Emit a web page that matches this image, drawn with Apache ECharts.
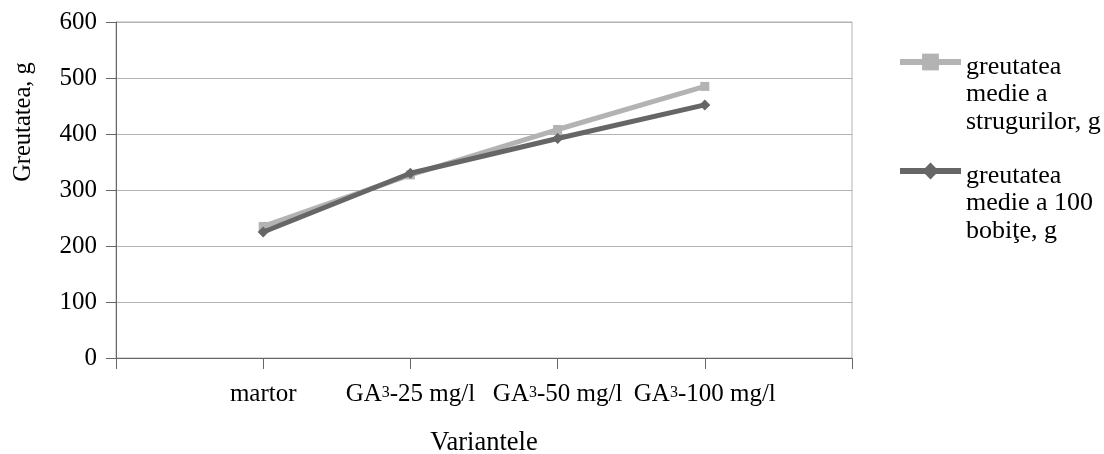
<!DOCTYPE html>
<html>
<head>
<meta charset="utf-8">
<script src="https://cdn.jsdelivr.net/npm/echarts@6/dist/echarts.min.js"></script>
<style>
html,body{margin:0;padding:0;background:#fff;}
#c{width:1104px;height:454px;}
</style>
</head>
<body>
<div id="c"></div>
<script>
const categories = ['', 'martor', 'GA₃-25 mg/l', 'GA₃-50 mg/l', 'GA₃-100 mg/l', ''];
const strugurilor = [null, 235, 327, 408, 485, null];
const bobite = [null, 225, 330, 392, 452, null];
const seriesNames = ['greutatea medie a strugurilor, g', 'greutatea medie a 100 bobiţe, g'];
const legendLabels = ['greutatea\nmedie a\nstrugurilor, g', 'greutatea\nmedie a 100\nbobiţe, g'];
const yTicks = [0, 100, 200, 300, 400, 500, 600];
const xTitle = 'Variantele';
const yTitle = 'Greutatea, g';

const FONT = '"Liberation Serif", "DejaVu Serif", serif';
const chart = echarts.init(document.getElementById('c'));

function legendCfg(i, top) {
  return {
    data: [seriesNames[i]],
    left: 897,
    top: top,
    orient: 'vertical',
    padding: 0,
    itemWidth: 61,
    itemHeight: 21,
    selectedMode: false,
    // two spacer lines in front keep the icon level with the first text line
    formatter: () => '{b| }\n{b| }\n' + legendLabels[i].split('\n').map(s => '{t|' + s + '}').join('\n'),
    lineStyle: { width: 6 },
    textStyle: {
      fontFamily: FONT, fontSize: 26, lineHeight: 27.5, color: '#000',
      rich: {
        b: { fontFamily: FONT, fontSize: 10, lineHeight: 32.5 },
        t: { fontFamily: FONT, fontSize: 26, lineHeight: 27.5, color: '#000' }
      }
    }
  };
}

chart.setOption({
  animation: false,
  backgroundColor: '#fff',
  grid: { left: 116, right: 252, top: 22, bottom: 96, outerBoundsMode: 'none', containLabel: false,
    show: true, borderColor: '#b3b3b3', borderWidth: 1 },
  legend: [legendCfg(0, -11.75), legendCfg(1, 97.25)],
  graphic: [{
    type: 'text', x: 24, y: 122, rotation: Math.PI / 2,
    style: { text: yTitle, font: '24.5px ' + FONT, fill: '#000', align: 'center', verticalAlign: 'middle' }
  }],
  xAxis: {
    type: 'category',
    data: categories,
    boundaryGap: false,
    name: xTitle,
    nameLocation: 'middle',
    nameGap: 72,
    nameTextStyle: { fontFamily: FONT, fontSize: 26.5, lineHeight: 26, color: '#000' },
    axisLine: { lineStyle: { color: '#666', width: 1 } },
    axisTick: { show: true, length: 11, interval: 0, lineStyle: { color: '#666' } },
    axisLabel: {
      interval: 0, margin: 24, fontFamily: FONT, fontSize: 25, lineHeight: 25, color: '#000',
      formatter: v => v.replace('₃', '{s|3}'),
      rich: { s: { fontFamily: FONT, fontSize: 16, color: '#000', padding: [0, 0, 3, 0] } }
    },
    splitLine: { show: false }
  },
  yAxis: {
    type: 'value',
    min: 0, max: 600, interval: 100,
    axisLine: { show: true, lineStyle: { color: '#666', width: 1 } },
    axisTick: { show: true, length: 10, lineStyle: { color: '#666' } },
    axisLabel: { margin: 19, fontFamily: FONT, fontSize: 25, color: '#000',
      formatter: v => yTicks.includes(v) ? String(v) : '' },
    splitLine: { show: true, lineStyle: { color: '#b3b3b3', width: 1 } }
  },
  series: [
    {
      name: seriesNames[0], type: 'line', data: strugurilor,
      symbol: 'rect', symbolSize: 9, showSymbol: true,
      lineStyle: { color: '#b3b3b3', width: 5 },
      itemStyle: { color: '#b3b3b3' },
      connectNulls: false, z: 2
    },
    {
      name: seriesNames[1], type: 'line', data: bobite,
      symbol: 'diamond', symbolSize: 11, showSymbol: true,
      lineStyle: { color: '#666666', width: 5 },
      itemStyle: { color: '#666666' },
      connectNulls: false, z: 3
    }
  ]
});
</script>
</body>
</html>
